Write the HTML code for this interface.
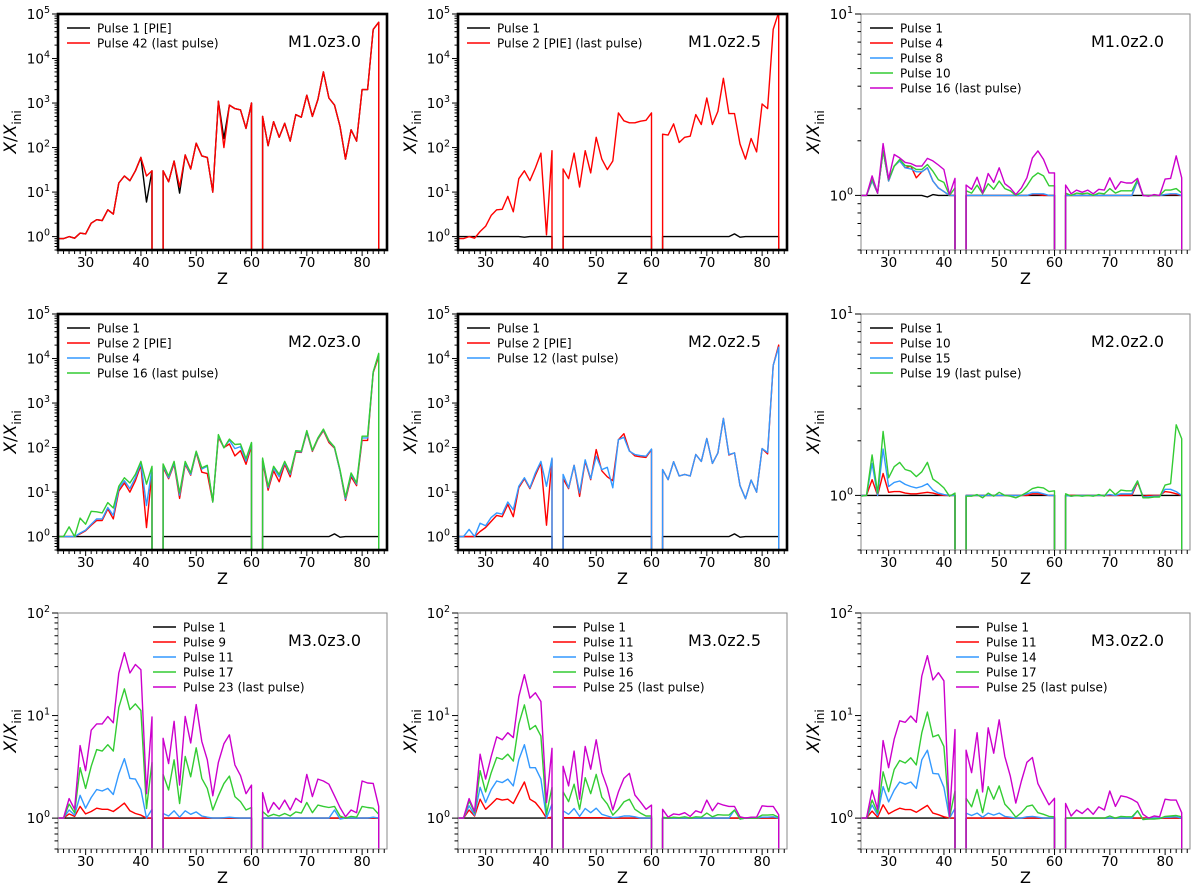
<!DOCTYPE html>
<html><head><meta charset="utf-8"><title>Abundance enhancement panels</title>
<style>
body{margin:0;background:#fff;}
svg{display:block;font-family:"DejaVu Sans","Liberation Sans",sans-serif;}
</style></head>
<body>
<svg id="fig" width="1200" height="891" viewBox="0 0 1200 891" xmlns="http://www.w3.org/2000/svg"></svg>
<script>
// ---- data: values for Z = 25..84 (index = Z-25); 0 = missing element ----
const zStart = 25;
const xTicks = [30,40,50,60,70,80];
const colors = {black:"#000000", red:"#ff0000", blue:"#3399ff", green:"#33cc33", magenta:"#cc00cc"};

const p1Black = [0.9,0.9,1.0,0.92,1.2,1.15,2.0,2.4,2.3,4, 3.2,16,23,18,30,60,6,30,0,30, 17,50,9.5,68,33,125,65,60,10,1100, 160,900,750,700,270,1000,0,500,110,380, 170,350,140,550,480,1500,500,1200,5000,1300, 900,300,55,250,140,2000,2000,45000,65000,0];
const p1Red = [0.9,0.9,1.0,0.92,1.2,1.15,2.0,2.4,2.3,4, 3.2,16,23,18,30,60,23,30,0,30, 17,50,13,68,33,125,65,60,10,1100, 100,900,750,700,270,1000,0,500,110,380, 170,350,140,550,480,1500,500,1200,5000,1300, 900,300,55,250,140,2000,2000,45000,65000,0];

const p2Black = [1,1,1,1,1,1,1,1,1,1, 1,1,0.97,1,1,1,1,1,0,1, 1,1,1,1,1,1,1,1,1,1, 1,1,1,1,1,1,0,1,1,1, 1,1,1,1,1,1,1,1,1,1, 1.15,0.97,1,1,1,1,1,1,1,0];
const p2Red = [0.9,0.9,1.0,0.92,1.3,1.7,3.0,4.0,4.1,8, 3.6,20,30,18,35,75,1.1,85,0,33, 20,75,13,85,27,170,55,32,50,600, 400,360,360,390,410,600,0,200,190,340, 130,170,180,550,330,1300,330,650,3600,580, 580,120,55,160,80,950,750,45000,110000,0];

const p3Black = [1,1,1,1,1,1,1,1,1,1, 1,1,0.98,1.01,1,1,1,1,0,1, 1,1,1,1,1,1,1,1,1,1, 1,1,1,1,1,1,0,1,1,1, 1,1,1,1,1,1,1,1,1,1, 1,1,1,1,1,1,1,1,1,0];
const p3Red = [1,1,1.2,1.03,1.76,1.2,1.45,1.55,1.42,1.45, 1.25,1.35,1.42,1.2,1.1,1.05,1.0,1.0,0,1.0, 1,1,1,1,1,1,1,1,1,1, 1,1.01,1.01,1,1,1,0,1,1,1, 1,1,1,1,1,1,1,1,1,1, 1.2,1,1,1,1,1.01,1.01,1.01,1,0];
const p3Blue = [1,1,1.2,1.03,1.76,1.2,1.45,1.55,1.42,1.4, 1.35,1.35,1.42,1.2,1.1,1.05,1.0,1.0,0,1.0, 1,1,1,1,1,1,1,1,1,1, 1,1.02,1.02,1.02,1,1,0,1,1,1, 1,1,1,1,1,1,1,1,1,1, 1.2,1,1,1,1,1.01,1.02,1.02,1,0];
const p3Green = [1,1,1.23,1.03,1.76,1.22,1.45,1.58,1.46,1.45, 1.39,1.39,1.48,1.36,1.22,1.18,1.0,1.1,0,1.06, 1.03,1.14,1.02,1.16,1.08,1.2,1.09,1.06,1.0,1.04, 1.13,1.26,1.33,1.28,1.13,1.13,0,1.03,1.0,1.03, 1.02,1.03,1.0,1.03,1.02,1.09,1.03,1.06,1.06,1.06, 1.22,1.0,1.0,1.0,1.0,1.07,1.07,1.09,1.03,0];
const p3Magenta = [1,1,1.28,1.03,1.93,1.23,1.68,1.61,1.52,1.5, 1.45,1.45,1.6,1.55,1.47,1.39,1.01,1.24,0,1.14, 1.08,1.26,1.03,1.32,1.18,1.42,1.16,1.1,1.01,1.1, 1.25,1.61,1.76,1.58,1.33,1.33,0,1.14,1.02,1.07, 1.04,1.07,1.02,1.08,1.07,1.25,1.08,1.19,1.17,1.17, 1.24,1.0,0.99,1.01,1.0,1.23,1.24,1.65,1.25,0];

const p4Black = [1,1,1,1,1,1,1,1,1,1, 1,1,1,1,1,1,1,1,0,1, 1,1,1,1,1,1,1,1,1,1, 1,1,1,1,1,1,0,1,1,1, 1,1,1,1,1,1,1,1,1,1, 1.15,0.97,1,1,1,1,1,1,1,0];
const p4Red = [1,1,1,1,1.15,1.35,1.8,2.3,2.3,4.2, 2.5,10.5,16,10,18,40,1.6,28,0,36, 20,42,7.2,42,24,78,28,26,6,170, 100,120,65,85,42,110,0,50,11,30, 17,42,22,80,78,220,82,155,240,130, 97,30,6.5,22,14,145,145,4800,11000,0];
const p4Blue = [1,1,1,1,1.2,1.4,1.9,2.5,2.5,4.5, 3,12,18,12,21,45,5,34,0,40, 21,45,8.5,45,25,80,33,38,6,185, 100,145,95,105,50,125,0,55,12.5,35, 22,46,25,83,80,230,85,160,250,140, 100,30,7,25,15,165,165,5000,12500,0];
const p4Green = [1,1,1.65,1.0,2.6,1.9,3.7,3.6,3.4,5.8, 4.4,13.5,21,16,25,49,15,38,0,43, 23,49,9.6,49,27,83,35,40,6,195, 98,155,117,120,56,130,0,58,13.5,38, 25,49,27,85,83,240,87,165,260,143, 103,32,7.7,27,16,180,180,5000,13000,0];

const p5Black = [1,1,1,1,1,1,1,1,1,1, 1,1,1,1,1,1,1,1,0,1, 1,1,1,1,1,1,1,1,1,1, 1,1,1,1,1,1,0,1,1,1, 1,1,1,1,1,1,1,1,1,1, 1.15,0.97,1,1,1,1,1,1,1,0];
const p5Red = [1,1,1.0,1.0,1.3,1.6,2.2,3.0,2.8,5.3, 2.8,12.5,20,12,24,45,1.8,55,0,20, 12,40,8,50,19,90,30,22,18,150, 205,85,65,62,60,90,0,32,19,48, 23,25,23,70,49,160,44,76,450,68, 76,14,7.1,18.6,10,95,72,7000,20000,0];
const p5Blue = [1,1,1.45,1.0,2.0,1.75,2.7,3.4,3.2,6, 4,13.5,21,12.5,27,49,13.5,58,0,25, 12.5,40,9.6,53,20,64,32,36,12.5,150, 170,83,70,66,64,93,0,32,19,48, 23,25,23,70,49,160,44,76,450,70, 76,14,7.1,18.6,10,95,78,7000,18000,0];

const p6Black = [1,1,1,1,1,1,1,1,1,1, 1,1,1,1,1,1,1,1,0,1, 1,1,1,1,1,1,1,1,1,1, 1,1,1,1,1,1,0,1,1,1, 1,1,1,1,1,1,1,1,1,1, 1,1,1,1,1,1,1,1,1,0];
const p6Red = [1,1,1.22,1.0,1.32,1.04,1.05,1.05,1.03,1.02, 1.02,1.03,1.04,1.03,1.01,1.0,1.0,1.0,0,1.0, 1,1,1,1,1,1,1,1,1,1, 1,1.02,1.02,1.01,1,1,0,1,1,1, 1,1,1,1,1,1,1,1,1,1, 1.18,0.99,1,1,1,1.05,1.04,1.02,1,0];
const p6Blue = [1,1,1.5,1.0,1.8,1.12,1.18,1.2,1.15,1.12, 1.1,1.12,1.16,1.07,1.03,1.01,1.0,1.0,0,1.0, 1,1,1,1,1,1,1,1,1,1, 1.02,1.04,1.04,1.02,1,1,0,1,0.99,1, 1,1,1,1,1,1.01,1,1.02,1.02,1.02, 1.2,0.98,0.98,0.99,0.99,1.08,1.08,1.05,1.0,0];
const p6Green = [0.99,1.0,1.67,1.03,2.25,1.25,1.44,1.52,1.39,1.36, 1.27,1.35,1.52,1.23,1.17,1.1,0.99,1.03,0,0.99, 0.99,1.01,0.97,1.03,0.99,1.04,1.0,0.99,0.97,1.0, 1.04,1.09,1.11,1.1,1.05,1.06,0,1.02,0.99,1.0, 0.99,1.0,0.99,1.01,0.99,1.08,1.01,1.07,1.06,1.06, 1.2,0.97,0.97,0.98,0.98,1.14,1.16,2.45,2.05,0];

const p7Black = [1,1,1,1,1,1,1,1,1,1, 1,1,1,1,1,1,1,1,0,1, 1,1,1,1,1,1,1,1,1,1, 1,1,1,1,1,1,0,1,1,1, 1,1,1,1,1,1,1,1,1,1, 1,1,1,1,1,1,1,1,1,0];
const p7Red = [1,1,1.1,1.04,1.3,1.1,1.16,1.25,1.22,1.22, 1.16,1.27,1.4,1.18,1.11,1.07,1.0,1.0,0,1.0, 1,1,1,1,1,1,1,1,1,1, 1,1,1,1,1,1,0,1,1,1, 1,1,1,1,1,1,1,1,1,1, 1,1,1,1,1,1,1,1,1,0];
const p7Blue = [1,1,1.2,1.07,1.67,1.25,1.59,1.9,1.84,1.95, 1.7,2.7,3.8,2.44,2.4,1.9,1.0,1.22,0,1.11, 1.05,1.18,1.02,1.18,1.09,1.15,1.05,1.02,1.0,1.0, 1.01,1.02,1.01,1.0,1.0,1.0,0,1,1,1, 1,1,1,1,1,1,1,1,1,1, 1.2,0.98,1,1,1,1,1,1.02,1,0];
const p7Green = [1,1,1.37,1.13,3.1,1.95,3.2,4.66,4.5,5.2, 4.5,12,18.2,11.4,13,11.2,1.24,3.5,0,2.67, 1.88,3.7,1.39,4.0,2.53,4.85,2.44,1.95,1.2,1.65, 2.17,2.57,1.62,1.45,1.2,1.27,0,1.16,1.04,1.09, 1.05,1.11,1.05,1.15,1.12,1.42,1.13,1.34,1.3,1.27, 1.3,1.05,1.0,1.04,1.02,1.3,1.27,1.25,1.09,0];
const p7Magenta = [1,1,1.55,1.22,5.1,2.9,7.2,8.3,8.3,9.8, 8.5,26,41,26,31.5,28,1.73,9.7,0,6, 3.4,8.8,2.1,9.8,5.4,12.8,5.6,3.7,1.65,3.5, 5.3,6.5,3.3,2.6,1.73,2.1,0,1.77,1.13,1.42, 1.22,1.5,1.2,1.56,1.42,2.67,1.62,2.4,2.3,2.14, 1.65,1.27,1.03,1.2,1.13,2.3,2.2,2.18,1.3,0];

const p8Black = [1,1,1,1,1,1,1,1,1,1, 1,1,1,1,1,1,1,1,0,1, 1,1,1,1,1,1,1,1,1,1, 1,1,1,1,1,1,0,1,1,1, 1,1,1,1,1,1,1,1,1,1, 1,1,1,1,1,1,1,1,1,0];
const p8Red = [1,1,1.2,1.05,1.53,1.22,1.37,1.55,1.5,1.53, 1.39,1.77,2.25,1.53,1.42,1.22,1.0,1.02,0,1.01, 1.01,1.01,1.01,1.01,1.01,1.01,1.01,1,1,1, 1,1,1,1,1,1,0,1,1,1, 1,1,1,1,1,1,1,1,1,1, 1,1,1,1,1,1,1,1,1,0];
const p8Blue = [1,1,1.32,1.07,2.0,1.42,1.9,2.3,2.22,2.4, 2.06,3.7,5.2,3.1,3.1,2.4,1.0,1.37,0,1.18, 1.09,1.24,1.04,1.24,1.13,1.25,1.09,1.05,1.01,1.02, 1.05,1.05,1.03,1.0,1.0,1.0,0,1,1,1, 1,1,1,1,1,1,1,1,1,1, 1.2,0.98,1,1,1,1.02,1.02,1.03,1,0];
const p8Green = [1,1,1.47,1.13,2.9,1.8,2.77,3.9,3.74,4.2, 3.6,8.3,12.7,7.3,8,6.3,1.09,2.0,0,1.8, 1.45,2.14,1.22,2.48,1.73,2.67,1.6,1.37,1.07,1.22, 1.44,1.53,1.22,1.12,1.05,1.05,0,1.02,1.0,1.02, 1.01,1.03,1.0,1.03,1.02,1.12,1.03,1.08,1.07,1.07, 1.2,0.98,1.0,1.0,1.0,1.07,1.07,1.08,1.02,0];
const p8Magenta = [1,1,1.55,1.16,4.2,2.4,4.0,6.2,5.8,6.8, 6.1,15.3,25,14.8,16.7,13.7,1.42,4.8,0,3.2, 2.06,4.5,1.53,5.0,3.0,5.8,2.8,1.98,1.2,1.8, 2.44,2.73,1.68,1.44,1.22,1.34,0,1.22,1.02,1.1, 1.08,1.13,1.04,1.18,1.13,1.5,1.18,1.4,1.34,1.3, 1.3,1.03,1.0,1.02,1.02,1.32,1.3,1.3,1.08,0];

const p9Black = [1,1,1,1,1,1,1,1,1,1, 1,1,1,1,1,1,1,1,0,1, 1,1,1,1,1,1,1,1,1,1, 1,1,1,1,1,1,0,1,1,1, 1,1,1,1,1,1,1,1,1,1, 1,1,1,1,1,1,1,1,1,0];
const p9Red = [1,1,1.17,1.02,1.35,1.1,1.18,1.25,1.21,1.21, 1.14,1.23,1.33,1.12,1.08,1.03,1.0,1.0,0,1.0, 1,1,1,1,1,1,1,1,1,1, 1,1,1,1,1,1,0,1,1,1, 1,1,1,1,1,1,1,1,1,1, 1,1,1,1,1,1,1,1,1,0];
const p9Blue = [1,1,1.34,1.07,2.03,1.44,1.87,2.25,2.14,2.25, 1.95,3.7,4.6,2.73,2.7,2.0,1.0,1.24,0,1.12, 1.06,1.12,1.02,1.12,1.07,1.12,1.04,1.02,1.0,1.0, 1.03,1.04,1.02,1.0,1.0,1.0,0,1,1,1, 1,1,1,1,1,1,1,1,1,1, 1.18,0.97,1,1,1,1.02,1.02,1.03,1,0];
const p9Green = [1,1,1.5,1.13,2.83,1.81,2.98,3.65,3.45,3.87, 3.3,6.8,10.8,6.2,6.5,5.0,1.01,1.84,0,1.56, 1.29,1.9,1.13,2.03,1.53,2.06,1.37,1.2,1.02,1.13, 1.3,1.34,1.13,1.09,1.04,1.03,0,1.0,1.0,1.0, 1.0,1.0,1.0,1.0,1.0,1.05,1.0,1.04,1.03,1.03, 1.18,0.97,0.98,0.98,0.99,1.04,1.05,1.06,1.03,0];
const p9Magenta = [1,1,1.87,1.22,5.7,3.1,5.9,8.9,8.6,9.9, 8.6,24.3,38.3,22.2,26.2,21.8,1.03,7.3,0,4.6, 2.77,6.8,1.8,7.6,4.3,9.1,4.0,2.57,1.4,2.3, 3.5,3.9,2.17,1.7,1.35,1.56,0,1.39,1.05,1.2, 1.11,1.24,1.09,1.29,1.2,1.84,1.3,1.65,1.61,1.53, 1.42,1.09,1.0,1.05,1.03,1.53,1.5,1.5,1.13,0];

const panels = [
 {id:"m1-z3",title:"M1.0z3.0",col:0,row:0,ymin:0.5,ymax:1e5,bold:true,series:[
   {label:"Pulse 1 [PIE]",color:"black",data:p1Black},{label:"Pulse 42 (last pulse)",color:"red",data:p1Red}]},
 {id:"m1-z25",title:"M1.0z2.5",col:1,row:0,ymin:0.5,ymax:1e5,bold:true,series:[
   {label:"Pulse 1",color:"black",data:p2Black},{label:"Pulse 2 [PIE] (last pulse)",color:"red",data:p2Red}]},
 {id:"m1-z2",title:"M1.0z2.0",col:2,row:0,ymin:0.5,ymax:10,bold:false,series:[
   {label:"Pulse 1",color:"black",data:p3Black},{label:"Pulse 4",color:"red",data:p3Red},{label:"Pulse 8",color:"blue",data:p3Blue},{label:"Pulse 10",color:"green",data:p3Green},{label:"Pulse 16 (last pulse)",color:"magenta",data:p3Magenta}]},
 {id:"m2-z3",title:"M2.0z3.0",col:0,row:1,ymin:0.5,ymax:1e5,bold:true,series:[
   {label:"Pulse 1",color:"black",data:p4Black},{label:"Pulse 2 [PIE]",color:"red",data:p4Red},{label:"Pulse 4",color:"blue",data:p4Blue},{label:"Pulse 16 (last pulse)",color:"green",data:p4Green}]},
 {id:"m2-z25",title:"M2.0z2.5",col:1,row:1,ymin:0.5,ymax:1e5,bold:true,series:[
   {label:"Pulse 1",color:"black",data:p5Black},{label:"Pulse 2 [PIE]",color:"red",data:p5Red},{label:"Pulse 12 (last pulse)",color:"blue",data:p5Blue}]},
 {id:"m2-z2",title:"M2.0z2.0",col:2,row:1,ymin:0.5,ymax:10,bold:false,series:[
   {label:"Pulse 1",color:"black",data:p6Black},{label:"Pulse 10",color:"red",data:p6Red},{label:"Pulse 15",color:"blue",data:p6Blue},{label:"Pulse 19 (last pulse)",color:"green",data:p6Green}]},
 {id:"m3-z3",title:"M3.0z3.0",col:0,row:2,ymin:0.5,ymax:100,bold:false,legendShift:true,series:[
   {label:"Pulse 1",color:"black",data:p7Black},{label:"Pulse 9",color:"red",data:p7Red},{label:"Pulse 11",color:"blue",data:p7Blue},{label:"Pulse 17",color:"green",data:p7Green},{label:"Pulse 23 (last pulse)",color:"magenta",data:p7Magenta}]},
 {id:"m3-z25",title:"M3.0z2.5",col:1,row:2,ymin:0.5,ymax:100,bold:false,legendShift:true,series:[
   {label:"Pulse 1",color:"black",data:p8Black},{label:"Pulse 11",color:"red",data:p8Red},{label:"Pulse 13",color:"blue",data:p8Blue},{label:"Pulse 16",color:"green",data:p8Green},{label:"Pulse 25 (last pulse)",color:"magenta",data:p8Magenta}]},
 {id:"m3-z2",title:"M3.0z2.0",col:2,row:2,ymin:0.5,ymax:100,bold:false,legendShift:true,series:[
   {label:"Pulse 1",color:"black",data:p9Black},{label:"Pulse 11",color:"red",data:p9Red},{label:"Pulse 14",color:"blue",data:p9Blue},{label:"Pulse 17",color:"green",data:p9Green},{label:"Pulse 25 (last pulse)",color:"magenta",data:p9Magenta}]}
];

const NS = "http://www.w3.org/2000/svg";
const svg = document.getElementById("fig");
const colLeft = [58, 458, 861], rowTop = [14, 314, 613];
const W = 329, H = 236, XMIN = 25, XMAX = 84.5;

function mk(tag, attrs, parent){
  const e = document.createElementNS(NS, tag);
  for (const k in attrs) e.setAttribute(k, attrs[k]);
  (parent||svg).appendChild(e);
  return e;
}

panels.forEach((p, pi) => {
  const L = colLeft[p.col], T = rowTop[p.row], B = T + H, R = L + W;
  const lmin = Math.log10(p.ymin), lmax = Math.log10(p.ymax);
  const xs = z => L + (z - XMIN) / (XMAX - XMIN) * W;
  const ys = v => T + (lmax - Math.log10(v)) / (lmax - lmin) * H;

  const g = mk("g", {});
  
  

  const cp = mk("clipPath", {id:"clip"+pi}, g);
  mk("rect", {x:L, y:T, width:W, height:H}, cp);

  const sg = mk("g", {"clip-path":"url(#clip"+pi+")"}, g);
  
  
  p.series.forEach((s, si) => {
    const d = s.data;
    let path = "", seg = [], prevZero = false;
    for (let i = 0; i < d.length; i++) {
      const z = zStart + i, v = d[i];
      if (v > 0) {
        if (seg.length === 0 && prevZero) seg.push([xs(z), B + 5]);
        seg.push([xs(z), ys(v)]);
        prevZero = false;
      } else {
        if (seg.length) { const last = seg[seg.length-1]; seg.push([last[0], B + 5]); }
        if (seg.length) path += "M" + seg.map(q => q[0].toFixed(1)+","+q[1].toFixed(1)).join("L");
        seg = []; prevZero = true;
      }
    }
    if (seg.length) path += "M" + seg.map(q => q[0].toFixed(1)+","+q[1].toFixed(1)).join("L");
    const line = mk("path", {d:path, fill:"none", stroke:colors[s.color], "stroke-width":1.4, "stroke-linejoin":"round"}, sg);
    
    
  });

  const fw = p.bold ? 2.6 : 1;
  const frame = mk("rect", {x:L, y:T, width:W, height:H, fill:"none", stroke:p.bold?"#000":"#888", "stroke-width":fw}, g);
  
  

  const xa = mk("g", {}, g);
  
  
  for (let z = 25; z <= 84; z++) {
    const major = xTicks.indexOf(z) >= 0;
    mk("line", {x1:xs(z), x2:xs(z), y1:B, y2:B + (major?6:4), stroke:"#000", "stroke-width":1}, xa);
  }
  xTicks.forEach(z => {
    const t = mk("text", {x:xs(z), y:B+17, "text-anchor":"middle", "font-size":13.5, fill:"#000"}, xa);
    t.textContent = z;
    
    
  });
  const xl = mk("text", {x:(L+R)/2, y:B+34, "text-anchor":"middle", "font-size":16, fill:"#000"}, xa);
  xl.textContent = "Z";
  
  

  const ya = mk("g", {}, g);
  
  
  for (let e = Math.floor(lmin); e <= Math.ceil(lmax); e++) {
    for (let m = 1; m <= 9; m++) {
      const v = m * Math.pow(10, e);
      const lv = Math.log10(v);
      if (lv < lmin - 1e-9 || lv > lmax + 1e-9) continue;
      const y = ys(v);
      mk("line", {x1:L-(m===1?6:3.5), x2:L, y1:y, y2:y, stroke:"#000", "stroke-width":1}, ya);
      if (m === 1) {
        const t = mk("text", {x:L-8, y:y+5, "text-anchor":"end", "font-size":13.5, fill:"#000"}, ya);
        
        
        const a = mk("tspan", {}, t); a.textContent = "10";
        const b = mk("tspan", {dy:-6, "font-size":9.5}, t); b.textContent = String(e);
      }
    }
  }
  const yl = mk("text", {transform:"translate("+(L-42)+","+((T+B)/2)+") rotate(-90)", "text-anchor":"middle", "font-size":17, fill:"#000"}, ya);
  
  
  const y1 = mk("tspan", {"font-style":"italic"}, yl); y1.textContent = "X";
  const y2 = mk("tspan", {}, yl); y2.textContent = "/";
  const y3 = mk("tspan", {"font-style":"italic"}, yl); y3.textContent = "X";
  const y4 = mk("tspan", {dy:5, "font-size":12}, yl); y4.textContent = "ini";

  const tt = mk("text", {x:L+230, y:T+33, "font-size":16, fill:"#000"}, g);
  tt.textContent = p.title;
  
  

  const lg = mk("g", {}, g);
  
  
  const lx = p.legendShift ? L + 95 : L + 9;
  p.series.forEach((s, si) => {
    const ly = T + 14 + si * 15;
    const e = mk("g", {}, lg);
    
    
    mk("line", {x1:lx, x2:lx+23, y1:ly, y2:ly, stroke:colors[s.color], "stroke-width":1.6}, e);
    const t = mk("text", {x:lx+30, y:ly+4.5, "font-size":12, fill:"#000"}, e);
    t.textContent = s.label;
  });
});
</script>
</body></html>
